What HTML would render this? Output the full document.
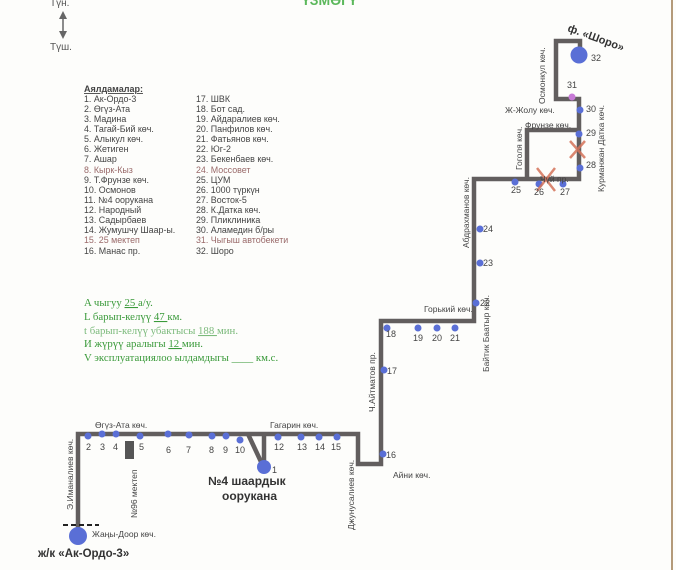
<!DOCTYPE html>
<html><head><meta charset="utf-8"><style>
html,body{margin:0;padding:0;background:#fdfdfb;}
svg{display:block}
text{font-family:"Liberation Sans",sans-serif;}
</style></head><body>
<svg width="676" height="570" viewBox="0 0 676 570" xmlns="http://www.w3.org/2000/svg">
<rect width="676" height="570" fill="#fdfdfb"/>
<line x1="672" y1="0" x2="672" y2="570" stroke="#b49a7a" stroke-width="2"/>
<!-- header -->
<text x="302" y="5" font-size="14" fill="#5cb85c" font-weight="bold">ҮЗМӨГҮ</text>
<text x="50" y="6" font-size="10" fill="#555">Түн.</text>
<line x1="63" y1="15" x2="63" y2="35" stroke="#666" stroke-width="1.5"/>
<polygon points="63,11 59,19 67,19" fill="#666"/>
<polygon points="63,39 59,31 67,31" fill="#666"/>
<text x="50" y="50" font-size="10" fill="#555">Түш.</text>
<!-- legend -->
<g font-size="8.9" fill="#444">
<text x="84" y="92" font-weight="bold" text-decoration="underline" font-size="9">Аялдамалар:</text>
<text x="84" y="102">1. Ак-Ордо-3</text>
<text x="84" y="112">2. Өгүз-Ата</text>
<text x="84" y="122">3. Мадина</text>
<text x="84" y="132">4. Тагай-Бий көч.</text>
<text x="84" y="142">5. Алыкул көч.</text>
<text x="84" y="152">6. Жетиген</text>
<text x="84" y="162">7. Ашар</text>
<text x="84" y="173" fill="#9a6a6a">8. Кырк-Кыз</text>
<text x="84" y="183">9. Т.Фрунзе көч.</text>
<text x="84" y="193">10. Осмонов</text>
<text x="84" y="203">11. №4 оорукана</text>
<text x="84" y="213">12. Народный</text>
<text x="84" y="223">13. Садырбаев</text>
<text x="84" y="233">14. Жумушчу Шаар-ы.</text>
<text x="84" y="243" fill="#9a6a6a">15. 25 мектеп</text>
<text x="84" y="254">16. Манас пр.</text>
<text x="196" y="102">17. ШВК</text>
<text x="196" y="112">18. Бот сад.</text>
<text x="196" y="122">19. Айдаралиев көч.</text>
<text x="196" y="132">20. Панфилов көч.</text>
<text x="196" y="142">21. Фатьянов көч.</text>
<text x="196" y="152">22. Юг-2</text>
<text x="196" y="162">23. Бекенбаев көч.</text>
<text x="196" y="173" fill="#9a6a6a">24. Моссовет</text>
<text x="196" y="183">25. ЦУМ</text>
<text x="196" y="193">26. 1000 түркүн</text>
<text x="196" y="203">27. Восток-5</text>
<text x="196" y="213">28. К.Датка көч.</text>
<text x="196" y="223">29. Пликлиника</text>
<text x="196" y="233">30. Аламедин б/ры</text>
<text x="196" y="243" fill="#9a6a6a">31. Чыгыш автобекети</text>
<text x="196" y="254">32. Шоро</text>
</g>
<g font-size="10.8" fill="#3a9a3a">
<text x="84" y="306" style="font-family:'Liberation Serif',serif">A чыгуу  <tspan text-decoration="underline"> 25 </tspan> а/у.</text>
<text x="84" y="320" style="font-family:'Liberation Serif',serif">L барып-келүү <tspan text-decoration="underline">47 </tspan>км.</text>
<text x="84" y="334" style="font-family:'Liberation Serif',serif" fill="#7cba7c">t барып-келүү убактысы <tspan text-decoration="underline">188 </tspan> мин.</text>
<text x="84" y="347" style="font-family:'Liberation Serif',serif">И жүрүү аралыгы  <tspan text-decoration="underline"> 12 </tspan>мин.</text>
<text x="84" y="361" style="font-family:'Liberation Serif',serif">V эксплуатациялоо ылдамдыгы ____ км.с.</text>
</g>
<!-- route -->
<g fill="none" stroke="#625e5e" stroke-width="4.5" stroke-linejoin="miter">
<polyline points="78,528 78,434 358,434 358,464 381,464 381,321 474,321 474,179 579,179 579,99 556,99 556,41 580,41 580,55"/>
<polyline points="527,179 527,130 579,130"/>
<polyline points="248,434 263,466"/>
<line x1="264" y1="434" x2="264" y2="466"/>
</g>
<line x1="63" y1="525" x2="99" y2="525" stroke="#222" stroke-width="2" stroke-dasharray="5,3"/>
<rect x="125" y="441" width="9" height="18" fill="#555"/>
<!-- stops -->
<g fill="#5a6fd6">
<circle cx="78" cy="536" r="9"/>
<circle cx="88" cy="436" r="3.5"/><circle cx="102" cy="434" r="3.5"/><circle cx="116" cy="434" r="3.5"/>
<circle cx="140" cy="436" r="3.5"/><circle cx="168" cy="434" r="3.5"/><circle cx="189" cy="435" r="3.5"/>
<circle cx="212" cy="436" r="3.5"/><circle cx="226" cy="436" r="3.5"/><circle cx="240" cy="440" r="3.5"/>
<circle cx="264" cy="467" r="7"/>
<circle cx="278" cy="437" r="3.5"/><circle cx="301" cy="437" r="3.5"/><circle cx="319" cy="437" r="3.5"/><circle cx="337" cy="437" r="3.5"/>
<circle cx="383" cy="454" r="3.5"/><circle cx="384" cy="370" r="3.5"/>
<circle cx="387" cy="328" r="3.5"/><circle cx="418" cy="328" r="3.5"/><circle cx="437" cy="328" r="3.5"/><circle cx="455" cy="328" r="3.5"/>
<circle cx="476" cy="303" r="3.5"/><circle cx="480" cy="263" r="3.5"/><circle cx="480" cy="229" r="3.5"/>
<circle cx="515" cy="182" r="3.5"/><circle cx="539" cy="184" r="3.5"/><circle cx="563" cy="184" r="3.5"/>
<circle cx="580" cy="168" r="3.5"/><circle cx="579" cy="134" r="3.5"/><circle cx="580" cy="110" r="3.5"/>
<circle cx="579" cy="55" r="8.5"/>
</g>
<circle cx="572" cy="97" r="3.5" fill="#c77ad6"/>
<g stroke="#d4735a" stroke-width="2.5" opacity="0.85">
<line x1="537" y1="168" x2="555" y2="191"/><line x1="555" y1="168" x2="537" y2="191"/>
<line x1="570" y1="141" x2="585" y2="158"/><line x1="585" y1="141" x2="570" y2="158"/>
</g>
<!-- numbers -->
<g font-size="9" fill="#444">
<text x="86" y="450">2</text><text x="100" y="450">3</text><text x="113" y="450">4</text><text x="139" y="450">5</text>
<text x="166" y="453">6</text><text x="186" y="453">7</text><text x="209" y="453">8</text><text x="223" y="453">9</text><text x="235" y="453">10</text>
<text x="272" y="473">1</text>
<text x="274" y="450">12</text><text x="297" y="450">13</text><text x="315" y="450">14</text><text x="331" y="450">15</text>
<text x="386" y="458">16</text><text x="387" y="374">17</text><text x="386" y="337">18</text>
<text x="413" y="341">19</text><text x="432" y="341">20</text><text x="450" y="341">21</text>
<text x="480" y="306">22</text><text x="483" y="266">23</text><text x="483" y="232">24</text>
<text x="511" y="193">25</text><text x="534" y="195">26</text><text x="560" y="195">27</text>
<text x="586" y="168">28</text><text x="586" y="136">29</text><text x="586" y="112">30</text><text x="567" y="88">31</text><text x="591" y="61">32</text>
</g>
<!-- street labels -->
<g font-size="8.5" fill="#444">
<text x="95" y="428">Өгүз-Ата көч.</text>
<text x="270" y="428">Гагарин көч.</text>
<text x="424" y="312">Горький көч.</text>
<text x="393" y="478">Айни көч.</text>
<text x="92" y="537">Жаңы-Доор көч.</text>
<text x="505" y="113">Ж-Жолу көч.</text>
<text x="525" y="128">Фрунзе көч.</text>
<text x="540" y="182">Чүй пр.</text>
<text transform="translate(73,510) rotate(-90)">Э.Иманалиев көч.</text>
<text transform="translate(137,518) rotate(-90)">№96 мектеп</text>
<text transform="translate(354,530) rotate(-90)">Джунусалиев көч.</text>
<text transform="translate(375,412) rotate(-90)">Ч.Айтматов пр.</text>
<text transform="translate(489,372) rotate(-90)">Байтик Баатыр көч.</text>
<text transform="translate(469,248) rotate(-90)">Абдрахманов көч.</text>
<text transform="translate(522,170) rotate(-90)">Гоголя көч.</text>
<text transform="translate(545,104) rotate(-90)">Осмонкул көч.</text>
<text transform="translate(604,192) rotate(-90)">Курманжан Датка көч.</text>
</g>
<g font-weight="bold" fill="#333">
<text x="38" y="557" font-size="11.5">ж/к «Ак-Ордо-3»</text>
<text x="208" y="485" font-size="12">№4 шаардык</text>
<text x="222" y="500" font-size="12">оорукана</text>
<text transform="translate(567,31) rotate(20)" font-size="11">ф. «Шоро»</text>
</g>
</svg>
</body></html>
